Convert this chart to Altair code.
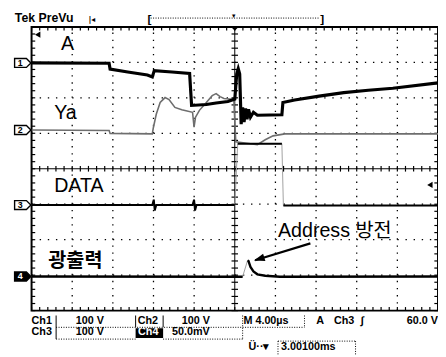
import altair as alt
import numpy as np
import pandas as pd

# ---------------- trace readings (graticule divisions) ----------------
# x: 0..10 horizontal divisions (4 µs/div, trigger at 5); y: 0..8 vertical divisions (bottom->top)
ch1_x = [0, 1.908, 1.932, 2.367, 2.850, 2.971, 3.019, 3.454, 3.889, 3.937, 4.300, 4.541, 4.831,
         5.000, 5.048, 5.085, 5.121, 5.157, 5.193, 5.229, 5.266, 5.302, 5.338, 5.386, 5.459,
         5.556, 6.159, 6.184, 6.473, 7.077, 7.681, 8.285, 8.889, 10]
ch1_y = [6.984, 6.976, 6.810, 6.727, 6.644, 6.588, 6.768, 6.727, 6.685, 5.785, 5.813, 5.855, 5.896,
         5.965, 6.671, 6.824, 6.671, 5.259, 5.730, 5.315, 5.702, 5.398, 5.675, 5.453, 5.592,
         5.509, 5.522, 5.869, 5.938, 6.048, 6.145, 6.215, 6.270, 6.422]

ch2_x = [0, 1.908, 1.932, 2.971, 2.995, 3.068, 3.164, 3.285, 3.382, 3.527, 3.696, 3.961, 3.998,
         4.034, 4.130, 4.300, 4.444, 4.541, 4.638, 4.734, 4.976, 5.024, 5.386, 5.556, 5.749,
         5.942, 6.232, 10]
ch2_y = [5.093, 5.080, 4.997, 4.983, 5.149, 5.536, 5.869, 6.007, 5.952, 5.730, 5.661, 5.592, 5.176,
         5.453, 5.647, 5.869, 6.062, 6.118, 6.035, 5.979, 5.952, 4.761, 4.706, 4.678, 4.817,
         4.927, 4.983, 4.983]

ch3_x = [0, 2.971, 3.007, 3.031, 3.068, 3.961, 3.998, 4.022, 4.058, 5.000, 5.072, 6.159, 6.196, 10]
ch3_y = [2.976, 2.976, 3.128, 2.824, 2.976, 2.976, 3.128, 2.824, 2.976, 2.976, 4.706, 4.706, 2.962, 2.962]
ch3_seg = [0, 0, 0, 0, 0, 0, 0, 0, 0, 0, 1, 1, 2, 2]

ch4_x = [0, 5.193, 5.314, 5.338, 5.386, 5.459, 5.556, 5.749, 6.111, 10]
ch4_y = [0.961, 0.955, 1.412, 1.398, 1.232, 1.107, 1.024, 0.983, 0.955, 0.961]
ch4_seg = [0, 0, 1, 1, 1, 1, 1, 1, 1, 1]

ch_levels = [6.984, 5.093, 2.976, 0.961]
ch_names = ["1", "2", "3", "4"]

labels = ["A", "Ya", "DATA", "Address 방전"]
labels_x = [0.725, 0.556, 0.556, 6.063]
labels_y = [7.336, 5.398, 3.358, 2.076]
kor_label = "광출력"

status_text = ["Ch1", "100 V", "Ch2", "100 V", "M", "4.00µs", "A", "Ch3", "∫",
               "Ch3", "100 V", "50.0mV", "Ü··▾"]
status_x = [0, 1.087, 2.61, 3.696, 5.217, 5.507, 7.005, 7.44, 8.10,
            0, 1.087, 3.454, 5.338]
status_y = [-0.388, -0.388, -0.388, -0.388, -0.388, -0.388, -0.388, -0.388, -0.388,
            -0.692, -0.692, -0.692, -1.107]

XS = alt.Scale(domain=[0, 10], nice=False, zero=False)
YS = alt.Scale(domain=[0, 8], nice=False, zero=False)


def X(f="x"):
    return alt.X(f"{f}:Q", scale=XS, axis=None)


def Y(f="y"):
    return alt.Y(f"{f}:Q", scale=YS, axis=None)


def rules(df, **kw):
    return alt.Chart(df).mark_rule(**kw).encode(x=X("x"), x2="x2:Q", y=Y("y"), y2="y2:Q")


def line(xs, ys, seg=None, **kw):
    df = pd.DataFrame({"x": xs, "y": ys, "i": range(len(xs)),
                       "s": seg if seg is not None else [0] * len(xs)})
    return alt.Chart(df).mark_line(**kw).encode(x=X(), y=Y(), order=alt.Order("i:Q"), detail="s:N")


def text(txts, xs, ys, **kw):
    df = pd.DataFrame({"t": txts, "x": xs, "y": ys})
    return alt.Chart(df).mark_text(**kw).encode(x=X(), y=Y(), text="t:N")


FONT = "Liberation Sans, Arial, Noto Sans CJK KR"
layers = []

# graticule dotted lines
vx = [1, 2, 3, 4, 6, 7, 8, 9]
layers.append(rules(pd.DataFrame({"x": vx, "x2": vx, "y": [0] * 8, "y2": [8] * 8}),
                    color="black", strokeWidth=1.3, strokeDash=[1.4, 5.825]))
hy = [1, 2, 3, 5, 6, 7]
layers.append(rules(pd.DataFrame({"x": [0] * 6, "x2": [10] * 6, "y": hy, "y2": hy}),
                    color="black", strokeWidth=1.3, strokeDash=[1.4, 6.88]))
# centre lines
layers.append(rules(pd.DataFrame({"x": [5, 0], "x2": [5, 10], "y": [0, 4], "y2": [8, 4]}),
                    color="black", strokeWidth=1))
# minor ticks
tx = np.round(np.arange(0, 10.001, 0.2), 3)
ty = np.round(np.arange(0, 8.001, 0.2), 3)
tick_rows = []
for v in tx:
    tick_rows += [(v, v, 8, 7.9), (v, v, 0, 0.1), (v, v, 3.92, 4.08)]
for v in ty:
    tick_rows += [(0, 0.09, v, v), (9.91, 10, v, v), (4.92, 5.08, v, v)]
layers.append(rules(pd.DataFrame(tick_rows, columns=["x", "x2", "y", "y2"]),
                    color="black", strokeWidth=1.2))

# traces
layers.append(line(ch2_x, ch2_y, color="#6e6e6e", strokeWidth=1.6))
layers.append(line(ch3_x, ch3_y, color="#a0a0a0", strokeWidth=1))
layers.append(line(ch3_x, ch3_y, seg=ch3_seg, color="black", strokeWidth=2))
layers.append(line(ch4_x, ch4_y, color="#a0a0a0", strokeWidth=1))
layers.append(line(ch4_x, ch4_y, seg=ch4_seg, color="black", strokeWidth=2.4))
layers.append(line(ch1_x, ch1_y, color="black", strokeWidth=3.2))

# channel ground markers
mk = pd.DataFrame({"x": [-0.217] * 4, "y": ch_levels, "n": ch_names,
                   "fill": ["white", "white", "white", "black"],
                   "tc": ["black", "black", "black", "white"]})
pent = "M-1,-0.55L0.45,-0.55L1,0L0.45,0.55L-1,0.55Z"
layers.append(alt.Chart(mk).mark_point(shape=pent, size=275, filled=True, stroke="black",
                                       strokeWidth=1.4, opacity=1)
              .encode(x=X(), y=Y(), fill=alt.Fill("fill:N", scale=None)))
layers.append(alt.Chart(mk).mark_text(font=FONT, fontSize=9, fontWeight="bold", align="center",
                                      baseline="middle", dx=-2.5)
              .encode(x=X(), y=Y(), text="n:N", color=alt.Color("tc:N", scale=None)))

# big labels
layers.append(text(labels, labels_x, labels_y, font=FONT, fontSize=20, align="left",
                   baseline="alphabetic", color="black"))
layers.append(text([kor_label], [0.411], [1.218], font="Noto Sans CJK KR", fontSize=20,
                   fontWeight="bold", align="left", baseline="alphabetic", color="black"))

# arrow
layers.append(rules(pd.DataFrame({"x": [6.860], "x2": [5.50], "y": [1.896], "y2": [1.42]}),
                    color="black", strokeWidth=2.2))
layers.append(alt.Chart(pd.DataFrame({"x": [5.471], "y": [1.412]}))
              .mark_point(shape="M0,0L-0.36,1L0.36,1Z", size=484, filled=True, color="black",
                          angle=252.8, opacity=1)
              .encode(x=X(), y=Y()))

# small scope markers (trigger position / level)
layers.append(alt.Chart(pd.DataFrame({"x": [5.0], "y": [7.95]}))
              .mark_point(shape="M-1,-0.5L1,-0.5L0,0.5Z", size=64, filled=True, color="black", opacity=1)
              .encode(x=X(), y=Y()))
layers.append(alt.Chart(pd.DataFrame({"x": [0.15, 9.80], "y": [7.78, 3.543]}))
              .mark_point(shape="triangle-left", size=40, filled=True, color="black", opacity=1)
              .encode(x=X(), y=Y()))

# top header
layers.append(text(["Tek PreVu"], [-0.411], [8.138], font=FONT, fontSize=12.5, fontWeight="bold",
                   align="left", baseline="alphabetic", color="black"))
layers.append(text(["|◂"], [1.40], [8.138], font="DejaVu Sans", fontSize=8, fontWeight="bold",
                   align="left", baseline="alphabetic", color="black"))
layers.append(text(["[", "]"], [2.85, 7.10], [8.10, 8.10], font=FONT, fontSize=12, fontWeight="bold",
                   align="left", baseline="alphabetic", color="black"))
layers.append(rules(pd.DataFrame({"x": [2.93], "x2": [7.08], "y": [8.249], "y2": [8.249]}),
                    color="black", strokeWidth=1, strokeDash=[1, 1.5]))
layers.append(text(["▾"], [4.976], [8.26], font="DejaVu Sans", fontSize=7, align="center",
                   baseline="alphabetic", color="black"))

# status area
layers.append(text(status_text, status_x, status_y, font=FONT, fontSize=11, fontWeight="bold",
                   align="left", baseline="alphabetic", color="black"))
layers.append(text(["60.0 V"], [10], [-0.388], font=FONT, fontSize=11, fontWeight="bold",
                   align="right", baseline="alphabetic", color="black"))
layers.append(alt.Chart(pd.DataFrame({"x": [2.560], "x2": [3.237], "y": [-0.498], "y2": [-0.775]}))
              .mark_rect(color="black").encode(x=X(), x2="x2:Q", y=Y(), y2="y2:Q"))
layers.append(text(["Ch4"], [2.62], [-0.692], font=FONT, fontSize=11, fontWeight="bold",
                   align="left", baseline="alphabetic", color="white"))
layers.append(text(["3.00100ms"], [6.135], [-1.107], font=FONT, fontSize=11, fontWeight="bold",
                   align="left", baseline="alphabetic", color="black"))
layers.append(rules(pd.DataFrame({"x": [0.604, 2.560, 3.237], "x2": [0.604, 2.560, 3.237],
                                  "y": [-0.138, -0.138, -0.138], "y2": [-0.803, -0.471, -0.471]}),
                    color="black", strokeWidth=1))
layers.append(rules(pd.DataFrame({"x": [0.604, 0.604, 3.237, 5.193, 5.193, 6.715, 6.063, 6.063, 7.971],
                                  "x2": [5.193, 2.560, 5.193, 5.193, 6.715, 6.715, 7.971, 6.063, 7.971],
                                  "y": [-0.471, -0.803, -0.803, -0.138, -0.471, -0.138, -0.86, -0.86, -0.86],
                                  "y2": [-0.471, -0.803, -0.803, -0.803, -0.471, -0.471, -0.86, -1.25, -1.25]}),
                    color="black", strokeWidth=1, strokeDash=[1, 1.5]))

chart = (alt.layer(*layers)
         .properties(width=414, height=289, autosize=alt.AutoSizeParams(type="none"),
                     padding={"left": 24, "top": 16, "right": 0, "bottom": 44},
                     background="white")
         .configure_view(stroke="black", strokeWidth=2))

chart.save("out.html", embed_options={"renderer": "svg", "actions": False})
